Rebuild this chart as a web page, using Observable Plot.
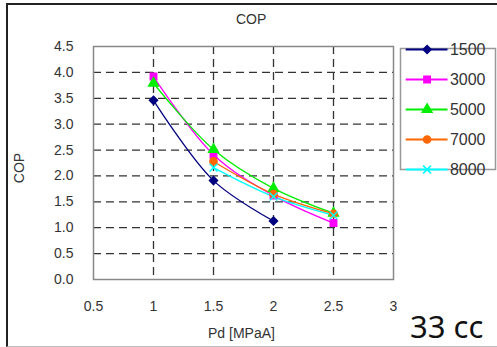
<!DOCTYPE html>
<html><head><meta charset="utf-8">
<script src="https://cdn.jsdelivr.net/npm/d3@7"></script>
<script src="https://cdn.jsdelivr.net/npm/@observablehq/plot@0.6"></script>
<style>
body{margin:0;background:#fff;font-family:"Liberation Sans",Arial,sans-serif;}
#wrap{position:relative;width:497px;height:347px;overflow:hidden;}
#outer{position:absolute;left:6px;top:3px;width:500px;height:341px;border-left:2px solid #222;border-top:2px solid #222;border-bottom:1px solid #bbb;}
.abs{position:absolute;white-space:nowrap;}
</style></head><body>
<div id="wrap"><div id="outer"></div></div>
<script>
const series = ["1500","3000","5000","7000","8000"];
const colors = ["#000080","#FF00FF","#00EE00","#FF6600","#00FFFF"];
const symbols = ["diamond2","square","triangle","circle","times"];
const pd = [1, 1.5, 2, 2.5];
const cop1500 = [3.46, 1.91, 1.13, null];
const cop3000 = [3.92, 2.41, 1.62, 1.09];
const cop5000 = [3.79, 2.51, 1.76, 1.28];
const cop7000 = [null, 2.28, 1.65, 1.27];
const cop8000 = [null, 2.16, 1.60, 1.24];
const xTicks = [0.5, 1, 1.5, 2, 2.5, 3];
const yTicks = [0, 0.5, 1, 1.5, 2, 2.5, 3, 3.5, 4, 4.5];

const allSeries = [cop1500, cop3000, cop5000, cop7000, cop8000];
const data = [];
allSeries.forEach((vals, i) => vals.forEach((v, j) => { if (v != null) data.push({s: series[i], x: pd[j], y: v}); }));

const colorScale = {domain: series, range: colors};
const symScale = {domain: series, range: symbols};
const font = "'Liberation Sans', Arial, sans-serif";

const chart = Plot.plot({
  width: 497, height: 347,
  marginLeft: 93, marginRight: 104, marginTop: 46, marginBottom: 68,
  style: {fontFamily: font, fontSize: "14px", color: "#333", background: "transparent"},
  x: {domain: [0.5, 3], label: null},
  y: {domain: [0, 4.5], label: null},
  color: colorScale,
  symbol: symScale,
  marks: [
    Plot.ruleY(yTicks.filter(d => d > 0 && d < 4.5), {stroke: "#333", strokeDasharray: "8,5", strokeWidth: 1.3}),
    Plot.ruleX(xTicks.filter(d => d > 0.5 && d < 3), {stroke: "#333", strokeDasharray: "8,5", strokeWidth: 1.3}),
    Plot.frame({stroke: "#888", strokeWidth: 1.5}),
    Plot.axisX({ticks: xTicks, tickFormat: d => String(d), tickSize: 0, tickPadding: 22, label: null, fontSize: 14}),
    Plot.axisY({ticks: yTicks, tickFormat: d => d.toFixed(1), tickSize: 0, tickPadding: 20, label: null, fontSize: 14}),
    Plot.line(data, {x: "x", y: "y", z: "s", stroke: "s", strokeWidth: 1.3, curve: "catmull-rom"}),
    Plot.dot(data, {x: "x", y: "y", symbol: "s", fill: "s", stroke: "s", r: 3.6, strokeWidth: 1.5})
  ]
});
chart.style.position = "absolute";
chart.style.left = "0px";
chart.style.top = "0px";
const wrap = document.getElementById("wrap");
wrap.appendChild(chart);

// legend as a small Plot
const legData = series.map(s => ({s}));
const legend = Plot.plot({
  width: 95, height: 127,
  margin: 0, marginTop: 3, marginBottom: 3,
  style: {fontFamily: font, fontSize: "16px", color: "#333", background: "#fff", overflow: "visible"},
  x: {domain: [0, 1], axis: null},
  y: {domain: series, axis: null, padding: 0},
  color: colorScale, symbol: symScale,
  marks: [
    Plot.frame({stroke: "#999", strokeWidth: 1.5}),
    Plot.ruleY(legData, {y: "s", x1: 0.06, x2: 0.5, stroke: "s", strokeWidth: 2}),
    Plot.dot(legData, {y: "s", x: 0.28, symbol: "s", fill: "s", stroke: "s", r: 3.6, strokeWidth: 1.5}),
    Plot.text(legData, {y: "s", x: 0.52, text: "s", textAnchor: "start", fill: "#333", fontSize: 16})
  ]
});
legend.style.position = "absolute";
legend.style.left = "400px";
legend.style.top = "45px";
wrap.appendChild(legend);

function addText(txt, css) {
  const d = document.createElement("div");
  d.className = "abs";
  d.textContent = txt;
  Object.assign(d.style, css);
  wrap.appendChild(d);
}
addText("COP", {left: "236px", top: "11px", fontSize: "14px", color: "#333"});
addText("Pd [MPaA]", {left: "208px", top: "325px", fontSize: "14px", color: "#333"});
addText("COP", {left: "4px", top: "160px", fontSize: "14px", color: "#333", transform: "rotate(-90deg)", transformOrigin: "center"});
addText("33 cc", {left: "410px", top: "305px", fontSize: "31px", color: "#111", fontFamily: "'Noto Sans', 'DejaVu Sans', sans-serif"});
</script>
</body></html>
